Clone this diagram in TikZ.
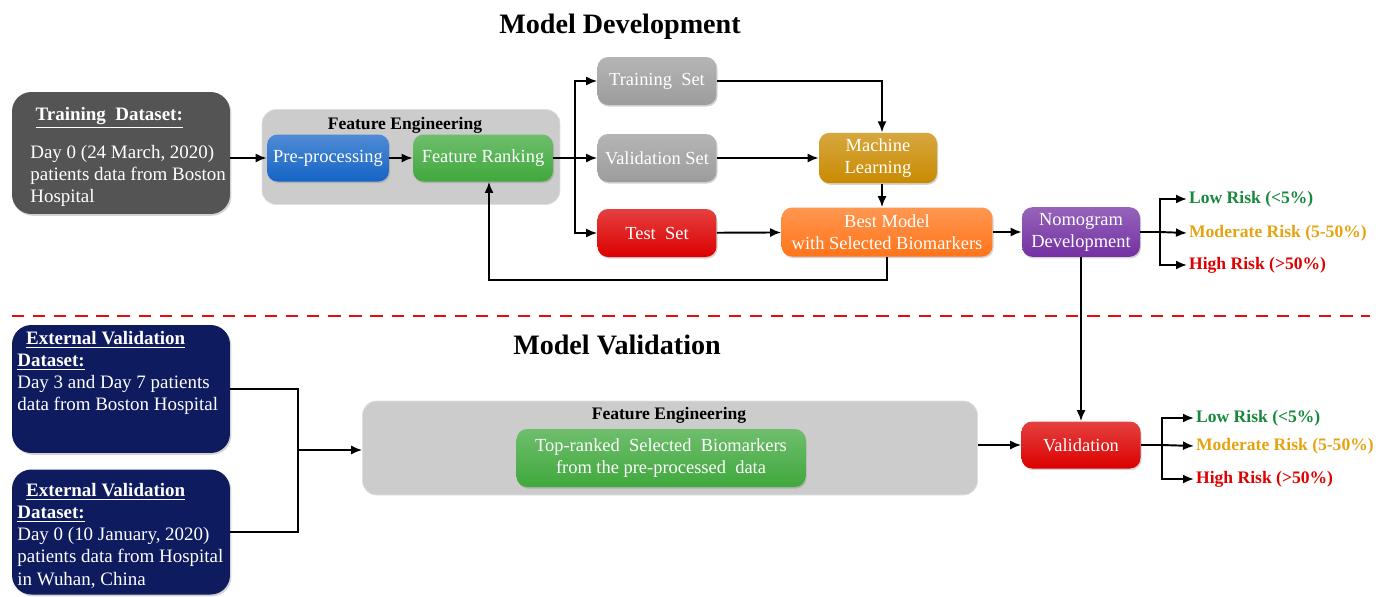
\documentclass[tikz,border=0pt]{standalone}
\usepackage{fontspec}
\setmainfont{Liberation Serif}
\usetikzlibrary{arrows.meta,shadows}
\definecolor{dsgrey}{HTML}{545454}
\definecolor{fegrey}{HTML}{CCCCCC}
\definecolor{setgrey}{HTML}{9C9C9C}
\definecolor{prepblue}{HTML}{1464C6}
\definecolor{rankgreen}{HTML}{3FA83C}
\definecolor{testred}{HTML}{DC0000}
\definecolor{mlgold}{HTML}{C98A00}
\definecolor{bestorange}{HTML}{FF7418}
\definecolor{nomopurple}{HTML}{7330A2}
\definecolor{extnavy}{HTML}{0E1B5E}
\definecolor{riskgreen}{HTML}{17883C}
\definecolor{riskamber}{HTML}{E6A311}
\definecolor{riskred}{HTML}{E00000}
\definecolor{sepred}{HTML}{E01010}

\begin{document}
\begin{tikzpicture}[
    x=0.02cm, y=-0.02cm,
    box/.style={
        rounded corners=6pt, top color=#1!75!white, bottom color=#1,
        draw=none, text=white, align=center,
        font=\fontsize{10.5}{12.5}\selectfont,
        drop shadow={shadow xshift=0.6pt, shadow yshift=-0.9pt, opacity=0.35},
    },
    dsbox/.style={
        rounded corners=11pt, fill=#1, draw=none,
        minimum width=4.36cm,
        drop shadow={shadow xshift=0.8pt, shadow yshift=-1pt, opacity=0.35},
    },
    dstext/.style={
        text=white, align=left, anchor=north west, inner sep=0pt,
        font=\fontsize{10.8}{12.6}\selectfont,
    },
    group/.style={
        rounded corners=8pt, fill=fegrey, draw=black!12,
    },
    grouplbl/.style={font=\bfseries\fontsize{10}{12}\selectfont},
    title/.style={font=\bfseries\fontsize{16}{19}\selectfont},
    risk/.style={anchor=west, inner sep=1pt, text=#1,
        font=\bfseries\fontsize{10}{12}\selectfont},
    arr/.style={-{Latex[length=2.2mm,width=1.8mm]}, line width=1.1pt},
    line/.style={line width=1.1pt},
]
\useasboundingbox (0,0) rectangle (1389,596);

% ════════════════════════════════════════
% Titles and separator
% ════════════════════════════════════════
\node[title] (devtitle) at (620,27) {Model Development};
\node[title] (valtitle) at (617,345) {Model Validation};
\draw[sepred, line width=1.2pt, dash pattern=on 7pt off 5pt] (12,316) -- (1370,316);

% ════════════════════════════════════════
% Model development
% ════════════════════════════════════════
\node[dsbox=dsgrey, minimum height=2.44cm] (trainbox) at (121,153) {};
\node[dstext] (traintext) at (30,107) {%
    \hspace*{3pt}{\bfseries\underline{Training\ \ Dataset:}}\\[9pt]
    Day 0 (24 March, 2020)\\
    patients\ data\ from\ Boston\\
    Hospital};

% feature engineering group
\node[group, minimum width=5.96cm, minimum height=1.9cm] (fetop) at (411,157) {};
\node[grouplbl] (fetoplbl) at (405,125) {Feature Engineering};
\node[box=prepblue, minimum width=2.44cm, minimum height=0.94cm] (prep) at (328,158) {Pre-processing};
\node[box=rankgreen, minimum width=2.8cm, minimum height=0.94cm] (rank) at (483,158) {Feature Ranking};

% data split
\node[box=setgrey, minimum width=2.38cm, minimum height=0.96cm] (trainset) at (657,81) {Training\ \ Set};
\node[box=setgrey, minimum width=2.38cm, minimum height=0.96cm] (valset) at (657,158) {Validation Set};
\node[box=testred, minimum width=2.38cm, minimum height=0.96cm] (testset) at (657,233) {Test\ \ Set};

\node[box=mlgold, minimum width=2.36cm, minimum height=0.96cm] (ml) at (878,158) {Machine\\Learning};
\node[box=bestorange, minimum width=4.22cm, minimum height=0.98cm] (best) at (887,232) {Best Model\\with Selected Biomarkers};
\node[box=nomopurple, minimum width=2.36cm, minimum height=0.96cm] (nomo) at (1081,232) {Nomogram\\Development};

% risk groups
\node[risk=riskgreen] (lowA) at (1187,199) {Low Risk (<5\%)};
\node[risk=riskamber] (modA) at (1187,233) {Moderate Risk (5-50\%)};
\node[risk=riskred] (highA) at (1187,265) {High Risk (>50\%)};

\coordinate (split) at (575,158);
\coordinate (nsplit) at (1160,232);

\draw[arr] (prep.west -| trainbox.east) -- (prep.west);
\draw[arr] (prep) -- (rank);
\draw[line] (rank.east) -- (split);
\draw[arr] (split) |- (trainset.west);
\draw[arr] (split) -- (valset.west);
\draw[arr] (split) |- (testset.west);
\draw[arr] (trainset.east) -| ([xshift=0.08cm]ml.north);
\draw[arr] (valset) -- (ml);
\draw[arr] ([xshift=0.08cm]ml.south) -- ([xshift=0.08cm]ml.south |- best.north);
\draw[arr] (testset) -- (best);
% feedback to feature ranking
\draw[arr] (best.south) -- ++(0,23) -| ([xshift=0.12cm]rank.south);
\draw[arr] (best) -- (nomo);
\draw[line] (nomo.east) -- (nsplit);
\draw[arr] (nsplit) |- (lowA.west);
\draw[arr] (nsplit) -- (modA.west);
\draw[arr] (nsplit) |- (highA.west);

% ════════════════════════════════════════
% Model validation
% ════════════════════════════════════════
\node[dsbox=extnavy, minimum height=2.56cm] (ext1) at (121,389) {};
\node[dstext] (ext1text) at (17,331) {%
    \hspace*{5pt}{\bfseries\underline{External\ Validation}}\\
    {\bfseries\underline{Dataset:}}\\
    Day\ 3\ and\ Day\ 7\ patients\\
    data\ from\ Boston\ Hospital};

\node[dsbox=extnavy, minimum height=2.5cm] (ext2) at (121,532) {};
\node[dstext] (ext2text) at (17,483) {%
    \hspace*{5pt}{\bfseries\underline{External\ Validation}}\\
    {\bfseries\underline{Dataset:}}\\
    Day\ 0\ (10\ January,\ 2020)\\
    patients\ data\ from\ Hospital\\
    in\ Wuhan,\ China};

\node[group, minimum width=12.3cm, minimum height=1.88cm] (febot) at (670,448) {};
\node[grouplbl] (febotlbl) at (669,415) {Feature Engineering};
\node[box=rankgreen, minimum width=5.78cm, minimum height=1.16cm] (topbio) at (661,458)
    {Top-ranked\ \ Selected\ \ Biomarkers\\from the pre-processed\ \ data};

\node[box=testred, minimum width=2.38cm, minimum height=0.94cm] (valid) at (1081,445) {Validation};

\node[risk=riskgreen] (lowB) at (1194,418) {Low Risk (<5\%)};
\node[risk=riskamber] (modB) at (1194,446) {Moderate Risk (5-50\%)};
\node[risk=riskred] (highB) at (1194,479) {High Risk (>50\%)};

\coordinate (join) at (298,450);
\coordinate (vsplit) at (1162,445);

\draw[line] (ext1.east) -| (join);
\draw[line] (ext2.east) -| (join);
\draw[arr] (join) -- (join -| febot.west);
\draw[arr] (valid.west -| febot.east) -- (valid.west);
\draw[arr] (nomo.south) -- (valid.north);
\draw[line] (valid.east) -- (vsplit);
\draw[arr] (vsplit) |- (lowB.west);
\draw[arr] (vsplit) -- (modB.west);
\draw[arr] (vsplit) |- (highB.west);

\end{tikzpicture}
\end{document}
